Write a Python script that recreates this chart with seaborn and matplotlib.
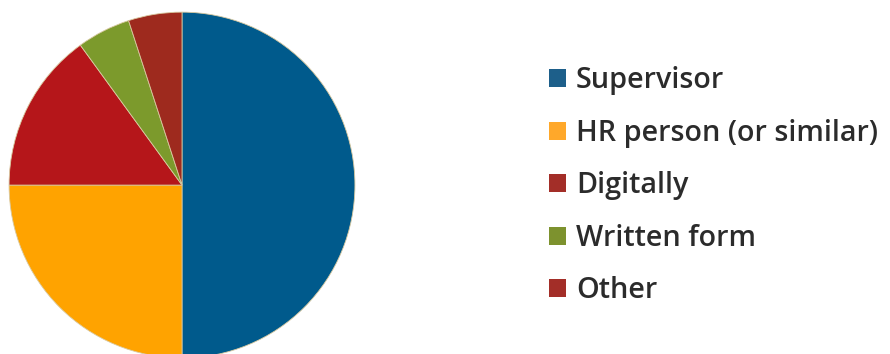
import matplotlib
matplotlib.use("Agg")
import matplotlib.pyplot as plt
import seaborn as sns
from matplotlib.patches import Patch

categories = ["Supervisor", "HR person (or similar)", "Digitally", "Written form", "Other"]
values = [50, 25, 15, 5, 5]
pie_colors = ["#005a8c", "#ffa300", "#b5161a", "#7c9a2c", "#9e2a1e"]
legend_colors = ["#1d5f8a", "#ffa82a", "#a32e28", "#7d922e", "#a32e28"]

sns.set_theme(style="white")
plt.rcParams["font.family"] = ["Open Sans", "DejaVu Sans"]

fig = plt.figure(figsize=(8.9, 3.54), dpi=100)
ax = fig.add_axes([0.0101, -0.0113, 0.3888, 0.977])
wedges, _ = ax.pie(values, colors=pie_colors, startangle=90, counterclock=False,
                   radius=1, wedgeprops=dict(linewidth=0.6, edgecolor="#d8c9a0"))
for w in wedges:
    w.set_clip_on(False)
ax.set_xlim(-1, 1)
ax.set_ylim(-1, 1)
ax.set_aspect("equal")
ax.axis("off")

handles = [Patch(facecolor=c, edgecolor="none") for c in legend_colors]
leg = fig.legend(handles, categories, loc="center left", bbox_to_anchor=(0.617, 0.475),
                 frameon=False, prop=dict(size=20.7, weight="semibold"),
                 handlelength=0.6, handleheight=0.6,
                 handletextpad=0.33, labelspacing=0.82, labelcolor="#2b2b2b",
                 borderpad=0, borderaxespad=0)

fig.savefig("out.png", dpi=100)
